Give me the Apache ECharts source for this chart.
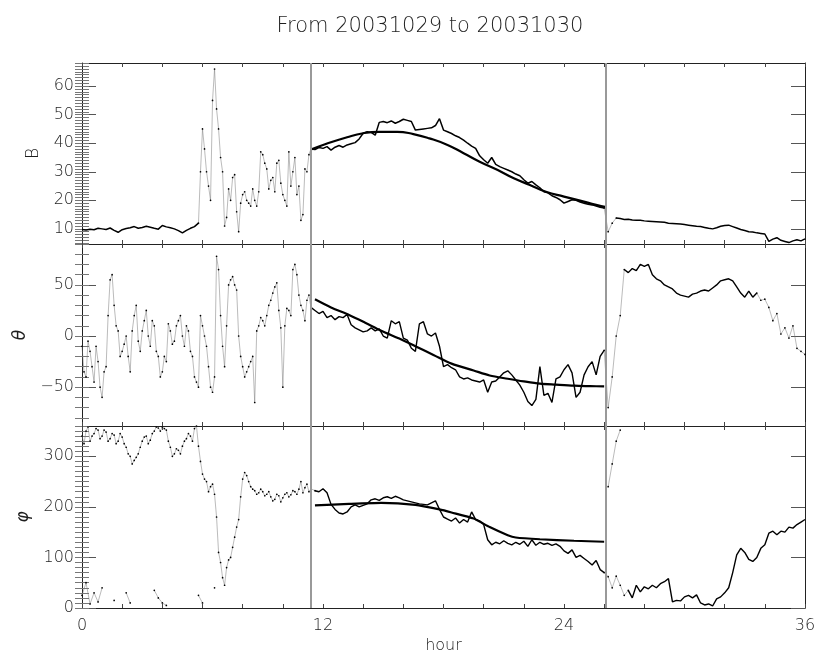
<!DOCTYPE html>
<html>

<head>
    <meta charset="utf-8">
    <title>From 20031029 to 20031030</title>
    <script src="https://cdn.jsdelivr.net/npm/echarts@6/dist/echarts.min.js"></script>
</head>

<body style="margin:0;background:#fff">
    <div id="main" style="width: 814px;height:658px;"></div>
    <script type="text/javascript">
        // sample grid: one value every 0.2 hour, 0 .. 36
        var hours = [];
        for (var i = 0; i <= 180; i++) hours.push(+(i * 0.2).toFixed(1));

        // field magnitude B
        var bVals = [
            9.8, 9.6, 9.9, 9.7, 10.2, 10.0, 9.8, 10.3, 9.5, 8.8,
            9.7, 10.1, 10.4, 10.8, 10.2, 10.5, 10.9, 10.6, 10.2, 9.9,
            11.2, 10.7, 10.4, 10.0, 9.4, 8.6, 9.5, 10.2, 10.8, 12.0,
            45, 30, 20, 66, 45, 30, 14, 20, 29, 9,
            22, 20, 18, 20, 23, 36, 31, 27, 23, 34,
            22, 18, 25, 35, 25, 15, 30, 38, 37.8, 38.5,
            38.2, 38.8, 37.6, 38.6, 39.2, 38.6, 39.4, 39.8, 40.2, 41.5,
            43.5, 44.0, 43.8, 42.8, 47.3, 47.6, 47.2, 47.8, 47.0, 47.6,
            48.4, 48.0, 47.6, 44.6, 44.8, 45.0, 45.2, 45.4, 46.2, 48.6,
            44.6, 44.0, 43.4, 42.6, 42.0, 41.1, 40.0, 39.0, 38.2, 35.6,
            34.2, 33.0, 35.0, 32.6, 31.8, 31.2, 30.6, 30.0, 29.2, 28.6,
            27.2, 26.0, 26.6, 25.4, 24.4, 23.0, 22.6, 21.6, 21.0, 20.2,
            19.0, 19.6, 20.2, 20.0, 19.4, 19.0, 18.6, 18.4, 18.0, 17.6,
            17.3, 9, 12, 13.8, 13.6, 13.3, 13.4, 13.1, 13.0, 13.0,
            12.8, 12.7, 12.6, 12.5, 12.4, 12.3, 12.0, 11.9, 11.8, 11.7,
            11.5, 11.3, 11.1, 10.9, 10.8, 10.5, 10.2, 10.0, 10.4, 10.9,
            11.2, 11.3, 10.8, 10.3, 9.8, 9.4, 9.0, 8.9, 8.6, 8.4,
            8.2, 5.6, 6.4, 6.9, 6.0, 5.6, 5.2, 5.8, 6.2, 5.8,
            6.5
        ];
        // extra B readings in the scattered stretch, at 5.9, 6.1, ... 11.3 h
        var bMidHours = [5.9, 6.1, 6.3, 6.5, 6.7, 6.9, 7.1, 7.3, 7.5, 7.7, 7.9, 8.1, 8.3, 8.5,
            8.7, 8.9, 9.1, 9.3, 9.5, 9.7, 9.9, 10.1, 10.3, 10.5, 10.7, 10.9, 11.1, 11.3];
        var bMidVals = [30, 38, 25, 55, 52, 35, 11, 24, 28, 16, 19, 23, 19, 24,
            18, 37, 33, 24, 28, 33, 26, 20, 37, 30, 22, 13, 31, 36];

        // latitude angle theta
        var thetaVals = [
            -10, -40, -15, -45, -25, -60, -30, 55, 30, 5,
            -15, 0, -35, 20, -5, 5, 25, -10, 10, -20,
            -35, -25, 5, -5, 15, 0, 10, -15, -40, -50,
            10, -10, -50, -40, 65, -10, 10, 55, 50, 0,
            -30, -35, -25, -65, 10, 15, 20, 35, 48, 25,
            -50, 27, 20, 70, 40, 25, 35, 28, 25, 22,
            24, 18, 20, 16, 19, 18, 21, 11, 8, 6,
            4, 5, 8, 5, 7, 0, -2, 15, 12, 14,
            -2, -4, -12, -15, 12, 14, 2, 0, 3, -10,
            -30, -28, -31, -33, -40, -42, -41, -43, -44, -45,
            -43, -55, -45, -44, -40, -36, -34, -38, -43, -48,
            -55, -64, -68, -62, -30, -58, -56, -65, -42, -40,
            -33, -28, -36, -60, -55, -38, -30, -25, -38, -20,
            -14, -70, -40, 0, 20, 65, 62, 66, 64, 70,
            68, 70, 60, 56, 54, 50, 48, 46, 42, 40,
            39, 38, 41, 42, 44, 45, 44, 47, 50, 54,
            55, 56, 54, 48, 42, 38, 44, 38, 42, 35,
            36, 28, 15, 22, 2, 8, -2, 10, -12, -15,
            -18
        ];
        // extra theta readings at 0.1, 0.3, ... 11.3 h
        var thetaMidVals = [
            -35, -5, -30, -10, -50, -35, 20, 60, 10, -20,
            -8, -20, 5, 30, -15, 15, 0, 15, -15, -40,
            -20, 12, -8, 10, 20, -10, 5, -20, -45, 20,
            0, -30, -55, 78, 20, -30, 50, 58, 45, -20,
            -40, -30, -20, 5, 18, 10, 30, 42, 52, 8,
            10, 25, 65, 60, 30, 15, 40
        ];

        // longitude angle phi, main branch
        var phiVals = [
            340, 350, 330, 345, 352, 340, 348, 335, 342, 330,
            338, 318, 300, 292, 305, 330, 340, 332, 350, 356,
            358, 352, 318, 305, 312, 320, 335, 340, 355, 320,
            265, 250, 240, 225, 110, 60, 80, 100, 140, 175,
            255, 262, 240, 232, 228, 230, 225, 220, 215, 222,
            218, 228, 224, 230, 235, 228, 245, 236, 232, 230,
            236, 228, 205, 195, 188, 186, 190, 200, 204, 200,
            203, 206, 214, 216, 213, 218, 220, 217, 221, 218,
            214, 212, 210, 208, 206, 205, 204, 208, 212, 195,
            180, 176, 172, 178, 168, 175, 170, 190, 175, 172,
            165, 135, 125, 130, 127, 133, 128, 125, 130, 126,
            132, 122, 135, 124, 130, 126, 128, 124, 127, 122,
            113, 108, 115, 100, 104, 98, 92, 85, 94, 76,
            70, 62, 40, 63, 45, 25, 35, 20, 45, 32,
            42, 38, 45, 40, 48, 52, 58, 12, 15, 14,
            22, 25, 20, 26, 10, 6, 8, 4, 18, 22,
            30, 40, 70, 105, 118, 110, 96, 92, 100, 118,
            125, 148, 152, 145, 152, 150, 160, 158, 165, 170,
            175
        ];
        // extra phi readings at 0.1, 0.3, ... 11.3 h
        var phiMidVals = [
            325, 358, 340, 355, 335, 352, 330, 345, 325, 345,
            325, 305, 285, 298, 318, 338, 325, 345, 358, 350,
            355, 330, 300, 315, 305, 330, 345, 330, 360, 290,
            255, 230, 245, 180, 90, 45, 95, 120, 160, 220,
            268, 250, 235, 225, 235, 222, 230, 212, 225, 210,
            225, 220, 232, 225, 250, 238, 230
        ];

        // phi points wrapped to the other side of 0/360
        var phiWrapVals = [
            25, 50, 8, 30, 12, 40, null, null, 15, null,
            null, 30, 10, null, null, null, null, null, 35, 20,
            10, 5, null, null, null, null, null, null, null, 25,
            10, null, null, 40, null, null, null, null, null, null,
            null, null, null, null, null, null, null, null, null, null,
            null, null, null, null, null, null, null, null, null, null,
            null, null, null, null, null, null, null, null, null, null,
            null, null, null, null, null, null, null, null, null, null,
            null, null, null, null, null, null, null, null, null, null,
            null, null, null, null, null, null, null, null, null, null,
            null, null, null, null, null, null, null, null, null, null,
            null, null, null, null, null, null, null, null, null, null,
            null, null, null, null, null, null, null, null, null, null,
            null, 240, 285, 330, 352, null, null, null, null, null,
            null, null, null, null, null, null, null, null, null, null,
            null, null, null, null, null, null, null, null, null, null,
            null, null, null, null, null, null, null, null, null, null,
            null, null, null, null, null, null, null, null, null, null,
            null
        ];

        // fitted curves inside the marked interval
        var bFitHours = [11.4, 12.0, 13.2, 14.0, 14.8, 15.7, 16.5, 17.3, 18.2, 19.0, 19.8, 20.7, 21.5, 22.3, 23.1, 24.0, 24.8, 25.6, 26.1];
        var bFitVals = [37.8, 39.4, 42.1, 43.5, 44.0, 44.0, 43.2, 41.7, 39.4, 36.5, 33.5, 30.6, 27.7, 25.4, 23.0, 21.3, 19.9, 18.4, 17.6];
        var thetaFitHours = [11.6, 12.4, 13.3, 14.1, 14.9, 15.8, 16.6, 17.5, 18.4, 19.5, 20.3, 21.2, 22.0, 22.8, 23.6, 24.5, 25.3, 26.0];
        var thetaFitVals = [36, 28, 20.5, 13, 5.2, -2.5, -10, -18.5, -27, -33.7, -38.6, -41.8, -44.4, -46.6, -47.6, -48.6, -49, -49.3];
        var phiFitHours = [11.6, 13.3, 14.9, 16.6, 17.8, 18.4, 19.5, 20.3, 21.2, 21.6, 22.8, 24.5, 26.0];
        var phiFitVals = [203, 206, 208, 204, 195, 189, 177, 160, 144, 139.5, 136, 133, 131];

        // boundaries (hours), scattered stretches and tick labels
        var boundaryHours = [11.4, 26.1];
        var bNoisy = [[5.8, 11.4], [26.0, 26.6]];
        var thetaNoisy = [[0, 11.4], [26.0, 27.0], [33.6, 36]];
        var phiNoisy = [[0, 11.6], [26.0, 27.2]];
        var hourTicks = [0, 12, 24, 36];
        var bTicks = [10, 20, 30, 40, 50, 60];
        var thetaTicks = [-50, 0, 50];
        var phiTicks = [0, 100, 200, 300];

        var font = 'DejaVu Sans';
        var txt = '#1e1e1e';
        var weight = 300;

        function pairs(xs, ys) {
            return xs.map(function (x, k) { return [x, ys[k]]; });
        }

        function steps(a, b, d) {
            var out = [];
            for (var v = a; v <= b + 1e-9; v += d) out.push(+v.toFixed(3));
            return out;
        }

        // keep values inside (or outside) the given hour ranges, ends shared
        function pick(vals, ranges, inside) {
            return vals.map(function (v, k) {
                var h = hours[k];
                var inR = ranges.some(function (r) { return h >= r[0] && h <= r[1]; });
                var strictIn = ranges.some(function (r) { return h > r[0] && h < r[1]; });
                if (inside) return inR ? v : null;
                return strictIn ? null : v;
            });
        }

        // main samples + in-between readings, ordered by hour
        function merged(vals, midHours, midVals) {
            return pairs(hours, vals).concat(pairs(midHours, midVals))
                .sort(function (a, b) { return a[0] - b[0]; });
        }

        var thetaMidHours = thetaMidVals.map(function (v, k) { return +(0.1 + 0.2 * k).toFixed(1); });
        var phiMidHours = phiMidVals.map(function (v, k) { return +(0.1 + 0.2 * k).toFixed(1); });

        var panels = [
            { name: 'B', italic: false, min: 4.7, max: 68.1, ticks: bTicks, minor: steps(5, 68, 1), gap: 40 },
            { name: 'θ', italic: true, min: -88, max: 90, ticks: thetaTicks, minor: steps(-80, 90, 10), gap: 52 },
            { name: 'φ', italic: true, min: 0, max: 360, ticks: phiTicks, minor: steps(0, 360, 10), gap: 49 }
        ];

        var grids = [
            { left: 82, right: 9, top: 63, height: 181, outerBoundsMode: 'none', containLabel: false },
            { left: 82, right: 9, top: 244, height: 182, outerBoundsMode: 'none', containLabel: false },
            { left: 82, right: 9, top: 426, height: 182, outerBoundsMode: 'none', containLabel: false }
        ];

        var xAxes = [], yAxes = [];
        panels.forEach(function (p, g) {
            ['bottom', 'top'].forEach(function (pos) {
                var lab = (g === 2 && pos === 'bottom');
                xAxes.push({
                    type: 'value', gridIndex: g, position: pos, min: 0, max: 36, interval: 2,
                    axisLine: { show: true, onZero: false, lineStyle: { color: '#222', width: 1 } },
                    axisTick: { show: true, inside: true, length: 4, lineStyle: { color: '#444' } },
                    axisLabel: {
                        show: lab, margin: 10, color: txt, fontSize: 16, fontFamily: font, fontWeight: weight,
                        formatter: function (v) { return hourTicks.indexOf(v) >= 0 ? String(v) : ''; }
                    },
                    splitLine: { show: false },
                    name: lab ? 'hour' : '', nameLocation: 'middle', nameGap: 30,
                    nameTextStyle: { color: txt, fontSize: 16, fontFamily: font, fontWeight: weight }
                });
            });
            ['left', 'right'].forEach(function (pos) {
                // major ticks (+ labels on the left)
                yAxes.push({
                    type: 'value', gridIndex: g, position: pos, min: p.min, max: p.max,
                    axisLine: { show: true, onZero: false, lineStyle: { color: '#222', width: 1 } },
                    axisTick: { show: true, inside: true, length: 14, customValues: p.ticks, lineStyle: { color: '#555' } },
                    axisLabel: {
                        show: pos === 'left', customValues: p.ticks, margin: 8, color: txt, fontSize: 16,
                        fontFamily: font, fontWeight: weight,
                        formatter: function (v) { return v < 0 ? '\u2212' + (-v) : String(v); }
                    },
                    splitLine: { show: false },
                    name: pos === 'left' ? p.name : '', nameLocation: 'middle', nameGap: p.gap, nameRotate: 90,
                    nameTextStyle: {
                        color: txt, fontSize: 17, fontFamily: font, fontWeight: weight,
                        fontStyle: p.italic ? 'italic' : 'normal'
                    }
                });
                // minor ticks
                yAxes.push({
                    type: 'value', gridIndex: g, position: pos, min: p.min, max: p.max,
                    axisLine: { show: false },
                    axisTick: { show: true, inside: true, length: 7, customValues: p.minor, lineStyle: { color: '#777' } },
                    axisLabel: { show: false },
                    splitLine: { show: false }
                });
            });
        });

        var boundaryLine = {
            silent: true, symbol: 'none', label: { show: false },
            lineStyle: { color: '#999', width: 2, type: 'solid' },
            data: boundaryHours.map(function (h) { return { xAxis: h }; })
        };

        // solid trace for the steady stretches
        var solidLine = function (g, data, width) {
            return {
                type: 'line', xAxisIndex: g * 2, yAxisIndex: g * 4,
                data: data, connectNulls: false, showSymbol: false,
                lineStyle: { color: '#000', width: width },
                animation: false, z: 3
            };
        };

        // dotted scatter look for the noisy stretches
        var dotLine = function (g, data) {
            return {
                type: 'line', xAxisIndex: g * 2, yAxisIndex: g * 4,
                data: data, connectNulls: false,
                showSymbol: true, showAllSymbol: true, symbol: 'circle', symbolSize: 1.7,
                itemStyle: { color: '#000' },
                lineStyle: { color: '#777', width: 0.5 },
                animation: false, z: 3
            };
        };

        var fitLine = function (g, xs, ys, smooth) {
            return {
                type: 'line', xAxisIndex: g * 2, yAxisIndex: g * 4,
                data: pairs(xs, ys), smooth: smooth, showSymbol: false,
                lineStyle: { color: '#000', width: 2.2 }, animation: false, z: 4
            };
        };

        var seriesList = [];
        var sB = solidLine(0, pairs(hours, pick(bVals, bNoisy, false)), 1.5);
        sB.markLine = boundaryLine;
        seriesList.push(sB, dotLine(0, merged(pick(bVals, bNoisy, true), bMidHours, bMidVals)),
            fitLine(0, bFitHours, bFitVals, true));

        var sT = solidLine(1, pairs(hours, pick(thetaVals, thetaNoisy, false)), 1.4);
        sT.markLine = boundaryLine;
        seriesList.push(sT, dotLine(1, merged(pick(thetaVals, thetaNoisy, true), thetaMidHours, thetaMidVals)),
            fitLine(1, thetaFitHours, thetaFitVals, 0.3));

        var sP = solidLine(2, pairs(hours, pick(phiVals, phiNoisy, false)), 1.4);
        sP.markLine = boundaryLine;
        seriesList.push(sP, dotLine(2, merged(pick(phiVals, phiNoisy, true), phiMidHours, phiMidVals)),
            dotLine(2, pairs(hours, phiWrapVals)), fitLine(2, phiFitHours, phiFitVals, 0.2));

        var myChart = echarts.init(document.getElementById('main'));
        myChart.setOption({
            backgroundColor: '#fff',
            animation: false,
            title: {
                text: 'From 20031029 to 20031030', left: 425, top: 11, textAlign: 'center',
                textStyle: { color: txt, fontSize: 21, fontWeight: weight, fontFamily: font }
            },
            grid: grids,
            xAxis: xAxes,
            yAxis: yAxes,
            series: seriesList
        });
    </script>
</body>

</html>
